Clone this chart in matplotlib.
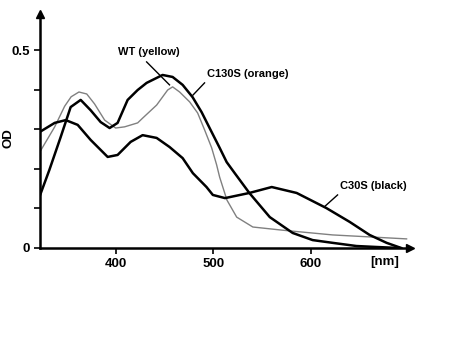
import matplotlib
matplotlib.use("Agg")
import matplotlib.pyplot as plt

plt.rcParams["font.family"] = ["Liberation Sans", "DejaVu Sans"]

# C130S (orange) - thick, main peak ~450 nm
wl_c130s = [321.7, 331.6, 343.2, 353.5, 363.8, 374.0, 384.3, 393.5, 401.7, 412.0, 422.3,
            431.5, 447.9, 458.2, 468.5, 478.7, 488.0, 496.2, 506.5, 513.7, 522, 537, 558,
            581.5, 602, 622.6, 647, 668, 691]
od_c130s = [0.131, 0.197, 0.280, 0.356, 0.374, 0.348, 0.318, 0.303, 0.316, 0.374, 0.399,
            0.417, 0.437, 0.432, 0.412, 0.381, 0.343, 0.303, 0.253, 0.217, 0.189, 0.139,
            0.078, 0.038, 0.020, 0.013, 0.005, 0.0025, 0.0]

# C30S (black) - thick, broad band ~560 nm
wl_c30s = [321.7, 337.1, 348.4, 360.7, 374.0, 391.5, 401.7, 415.1, 427.4, 441.8, 455.1,
           468.5, 479, 493, 499.5, 512, 537, 560, 585.6, 616, 640, 660.5, 678, 693]
od_c30s = [0.293, 0.316, 0.323, 0.311, 0.273, 0.230, 0.235, 0.268, 0.285, 0.278, 0.255,
           0.227, 0.189, 0.154, 0.134, 0.126, 0.139, 0.154, 0.139, 0.101, 0.066, 0.033,
           0.013, 0.0]

# WT (yellow) - thin grey
wl_wt = [321.7, 337.1, 347.3, 354, 362, 370, 378, 388.4, 399.7, 408.9, 422.3, 427.4,
         441.8, 453.1, 458.2, 465.4, 475.7, 483.9, 491.1, 498.3, 503.4, 506.5, 514, 524,
         540.6, 571, 622.6, 698.5]
od_wt = [0.242, 0.306, 0.358, 0.382, 0.394, 0.389, 0.364, 0.323, 0.303, 0.306, 0.316,
         0.328, 0.361, 0.399, 0.407, 0.394, 0.369, 0.341, 0.298, 0.253, 0.210, 0.179,
         0.121, 0.078, 0.053, 0.045, 0.033, 0.023]

fig = plt.figure(figsize=(4.5, 3.6), dpi=100)
ax = fig.add_axes([40/450, 112/360, 370/450, 234/360])
ax.set_xlim(322, 702)
ax.set_ylim(0, 0.591)

ax.plot(wl_wt, od_wt, color="#808080", lw=1.0, solid_joinstyle="round")
ax.plot(wl_c130s, od_c130s, color="black", lw=1.8, solid_joinstyle="round")
ax.plot(wl_c30s, od_c30s, color="black", lw=1.8, solid_joinstyle="round")

for s in ("top", "right"):
    ax.spines[s].set_visible(False)
for s in ("left", "bottom"):
    ax.spines[s].set_linewidth(1.8)
ax.plot(1, 0, ">k", ms=6, transform=ax.transAxes, clip_on=False)
ax.plot(0, 1, "^k", ms=6, transform=ax.transAxes, clip_on=False)

ax.set_yticks([0, 0.1, 0.2, 0.3, 0.4, 0.5])
ax.set_yticklabels(["0", "", "", "", "", "0.5"], fontweight="bold", fontsize=9.5)
ax.set_xticks([400, 500, 600])
ax.set_xticklabels(["400", "500", "600"], fontweight="bold", fontsize=9.5)
ax.tick_params(axis="both", direction="out", length=4, width=1.2, pad=3)
ax.set_ylabel("OD", fontweight="bold", fontsize=9.5)
ax.yaxis.set_label_coords(-0.068, 0.47)

ax.text(676, -0.035, "[nm]", ha="center", va="center", fontweight="bold", fontsize=9.5,
        clip_on=False)

ax.text(433.6, 0.495, "WT (yellow)", ha="center", va="center", fontweight="bold", fontsize=8)
ax.plot([431.5, 455], [0.470, 0.412], color="black", lw=1.0)
ax.text(535, 0.439, "C130S (orange)", ha="center", va="center", fontweight="bold", fontsize=8)
ax.plot([491, 479], [0.417, 0.386], color="black", lw=1.0)
ax.text(664.5, 0.157, "C30S (black)", ha="center", va="center", fontweight="bold", fontsize=8)
ax.plot([627.6, 614], [0.134, 0.104], color="black", lw=1.0)

fig.savefig("out.png", dpi=100)
